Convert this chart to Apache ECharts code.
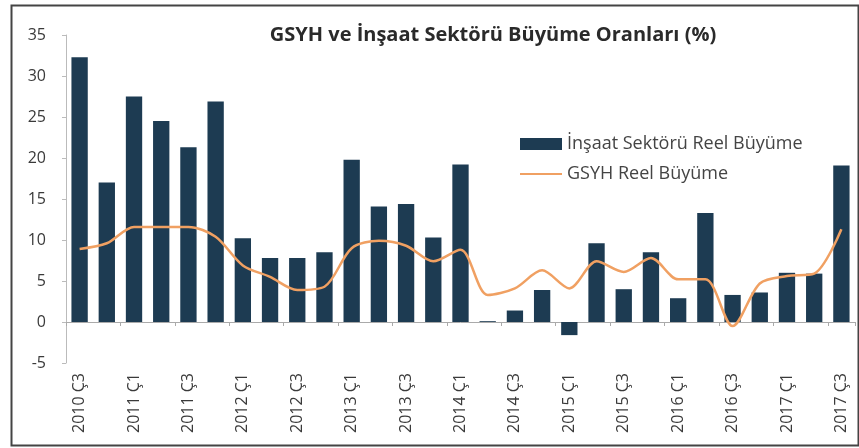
<!DOCTYPE html>
<html>
<head>
<meta charset="utf-8">
<script src="https://cdn.jsdelivr.net/npm/echarts@6/dist/echarts.min.js"></script>
<style>
  html, body { margin: 0; padding: 0; background: #fff; }
  #chart { width: 859px; height: 448px; }
</style>
</head>
<body>
<div id="chart"></div>
<script>
// quarters 2010 Ç3 .. 2017 Ç3
const quarters = [
  '2010 Ç3', '2010 Ç4',
  '2011 Ç1', '2011 Ç2', '2011 Ç3', '2011 Ç4',
  '2012 Ç1', '2012 Ç2', '2012 Ç3', '2012 Ç4',
  '2013 Ç1', '2013 Ç2', '2013 Ç3', '2013 Ç4',
  '2014 Ç1', '2014 Ç2', '2014 Ç3', '2014 Ç4',
  '2015 Ç1', '2015 Ç2', '2015 Ç3', '2015 Ç4',
  '2016 Ç1', '2016 Ç2', '2016 Ç3', '2016 Ç4',
  '2017 Ç1', '2017 Ç2', '2017 Ç3'
]

const insaatBuyume = [
  32.3, 17.0, 27.5, 24.5, 21.3, 26.9,
  10.2, 7.8, 7.8, 8.5,
  19.8, 14.1, 14.4, 10.3,
  19.2, 0.1, 1.4, 3.9,
  -1.6, 9.6, 4.0, 8.5,
  2.9, 13.3, 3.3, 3.6,
  6.0, 5.9, 19.1
]

const gsyhBuyume = [
  8.9, 9.6, 11.6, 11.6, 11.6, 10.4,
  6.9, 5.5, 3.9, 4.3,
  9.0, 9.9, 9.3, 7.4,
  8.8, 3.3, 4.1, 6.3,
  4.1, 7.4, 6.1, 7.8,
  5.2, 5.2, -0.5, 4.7,
  5.6, 5.9, 11.3
]

const yTicks = { min: -5, max: 35, interval: 5 }

const textColor = '#3a3a3a'
const font = '"Open Sans", "Noto Sans", sans-serif'

const chart = echarts.init(document.getElementById('chart'))

chart.setOption({
  animation: false,
  textStyle: { fontFamily: font },
  title: {
    text: 'GSYH ve İnşaat Sektörü Büyüme Oranları (%)',
    left: 488,
    top: 20,
    textAlign: 'center',
    textStyle: { fontSize: 20, fontWeight: 'bold', color: '#2a2a2a', fontFamily: font }
  },
  graphic: [{
    type: 'rect',
    left: 9,
    top: 3,
    shape: { width: 847, height: 440 },
    style: { fill: 'none', stroke: '#444', lineWidth: 2 },
    silent: true
  }],
  legend: {
    orient: 'vertical',
    left: 514,
    top: 130,
    itemWidth: 42,
    itemHeight: 12,
    itemGap: 12,
    textStyle: { fontSize: 18, color: '#444', fontFamily: font },
    data: [
      { name: 'İnşaat Sektörü Reel Büyüme', icon: 'rect' },
      { name: 'GSYH Reel Büyüme', itemStyle: { opacity: 0 } }
    ]
  },
  grid: { left: 66, right: 4, top: 35, bottom: 85, outerBoundsMode: 'none' },
  xAxis: {
    type: 'category',
    data: quarters,
    axisLine: { onZero: true, lineStyle: { color: '#aaa' } },
    axisTick: { show: true, length: 4, lineStyle: { color: '#aaa' } },
    axisLabel: {
      rotate: 90,
      interval: 1,
      color: textColor,
      fontSize: 16,
      margin: 10,
      fontFamily: font
    }
  },
  yAxis: {
    type: 'value',
    min: yTicks.min,
    max: yTicks.max,
    interval: yTicks.interval,
    axisLine: { show: true, lineStyle: { color: '#bbb' } },
    axisTick: { show: true, length: 4, lineStyle: { color: '#bbb' } },
    splitLine: { show: false },
    axisLabel: { color: textColor, fontSize: 16, margin: 20, fontFamily: font }
  },
  series: [
    {
      name: 'İnşaat Sektörü Reel Büyüme',
      type: 'bar',
      data: insaatBuyume,
      barWidth: '60%',
      itemStyle: { color: '#1d3b52' }
    },
    {
      name: 'GSYH Reel Büyüme',
      type: 'line',
      data: gsyhBuyume,
      smooth: 0.3,
      symbol: 'none',
      lineStyle: { color: '#f0a062', width: 2.5 },
      itemStyle: { color: '#f0a062' }
    }
  ]
})
</script>
</body>
</html>
